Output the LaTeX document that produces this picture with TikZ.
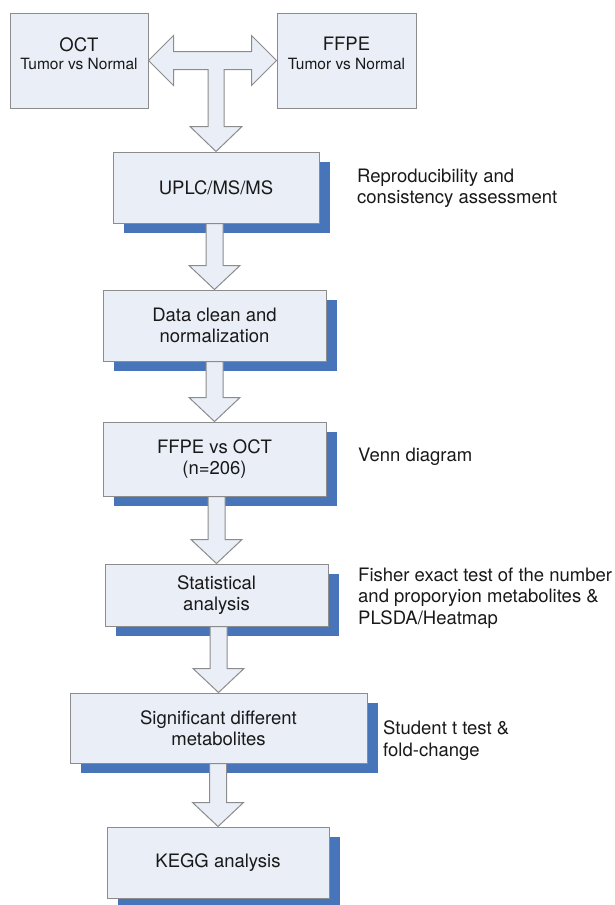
\documentclass[tikz,border=0pt]{standalone}
\usepackage{fontspec}
\setmainfont{TeX Gyre Heros}
\usetikzlibrary{calc,shadows}
\definecolor{boxfill}{RGB}{233,238,247}
\definecolor{boxline}{RGB}{140,140,140}
\definecolor{shadowblue}{RGB}{72,117,186}
\definecolor{textcol}{RGB}{25,25,25}
\newcommand{\bigtxt}{\fontsize{18.5}{21.5}\selectfont}
\newcommand{\smalltxt}{\fontsize{15.5}{19}\selectfont}
%% block arrow from the bottom of one box to the top of the next
\newcommand{\flowarrow}[2]{%
  \draw[arrowbody] let \p1=(#1.south), \p2=(#2.north) in
    ({\x2-8.5pt},\y1) -- ({\x2-8.5pt},{\y2+24pt}) -- ({\x2-25.5pt},{\y2+24pt})
    -- (\x2,\y2) -- ({\x2+25.5pt},{\y2+24pt}) -- ({\x2+8.5pt},{\y2+24pt})
    -- ({\x2+8.5pt},\y1) -- cycle;}
\begin{document}
\begin{tikzpicture}[x=1pt,y=-1pt,
    box/.style={draw=boxline,fill=boxfill,line width=1pt,inner sep=0pt,
      align=center,font=\bigtxt,text=textcol},
    shadowbox/.style={box,drop shadow={shadow xshift=11pt,shadow yshift=-10pt,
      fill=shadowblue,opacity=1}},
    note/.style={anchor=west,inner sep=0pt,align=left,font=\bigtxt,text=textcol},
    arrowbody/.style={draw=boxline,fill=boxfill,line width=1pt,line join=miter}]
        \useasboundingbox (0,0) rectangle (614,905);
        %% Tissue types
        \node[box,minimum width=138pt,minimum height=95pt,text depth=14pt] (oct) at (79,60.5)
            {OCT\\[-3pt]{\smalltxt Tumor vs Normal}};
        \node[box,minimum width=139pt,minimum height=95pt,text depth=14pt] (ffpe) at (346.5,60.5)
            {FFPE\\[-3pt]{\smalltxt Tumor vs Normal}};
        %% Workflow steps
        \node[shadowbox,minimum width=206pt,minimum height=71pt] (uplc) at (216,187.5) {UPLC/MS/MS};
        \node[shadowbox,minimum width=223pt,minimum height=71pt] (clean) at (214.5,325.5) {Data clean and\\normalization};
        \node[shadowbox,minimum width=223pt,minimum height=74pt] (compare) at (214.5,459) {FFPE vs OCT\\(n=206)};
        \node[shadowbox,minimum width=223pt,minimum height=62pt] (stats) at (216.5,595) {Statistical\\analysis};
        \node[shadowbox,minimum width=297pt,minimum height=70pt] (signif) at (218.5,728) {Significant different\\metabolites};
        \node[shadowbox,minimum width=222pt,minimum height=71pt] (kegg) at (218,862.5) {KEGG analysis};
        %% Side notes
        \node[note] (repro) at (357,188.5) {Reproducibility and\\consistency assessment};
        \node[note] (venn) at (358,457) {Venn diagram};
        \node[note] (fisher) at (358,598) {Fisher exact test of the number\\and proporyion metabolites \&\\PLSDA/Heatmap};
        \node[note] (ttest) at (383,740.5) {Student t test \&\\fold-change};
        %% Double arrow with branch down
        \draw[arrowbody] let \p1=(oct.east), \p2=(ffpe.west), \p3=(uplc.north) in
            (\p1) -- ({\x1+25pt},{\y1+25pt}) -- ({\x1+25pt},{\y1+9pt})
            -- ({\x2-25pt},{\y1+9pt}) -- ({\x2-25pt},{\y1+25pt}) -- (\x2,\y1)
            -- ({\x2-25pt},{\y1-25pt}) -- ({\x2-25pt},{\y1-9pt})
            -- ({\x3+8pt},{\y1-9pt}) -- ({\x3+8pt},{\y3+25pt}) -- ({\x3+26pt},{\y3+25pt})
            -- (\x3,\y3) -- ({\x3-26pt},{\y3+25pt}) -- ({\x3-8pt},{\y3+25pt})
            -- ({\x3-8pt},{\y1-9pt}) -- ({\x1+25pt},{\y1-9pt}) -- ({\x1+25pt},{\y1-25pt}) -- cycle;
        %% Step arrows
        \flowarrow{uplc}{clean}
        \flowarrow{clean}{compare}
        \flowarrow{compare}{stats}
        \flowarrow{stats}{signif}
        \flowarrow{signif}{kegg}
    \end{tikzpicture}
\end{document}
